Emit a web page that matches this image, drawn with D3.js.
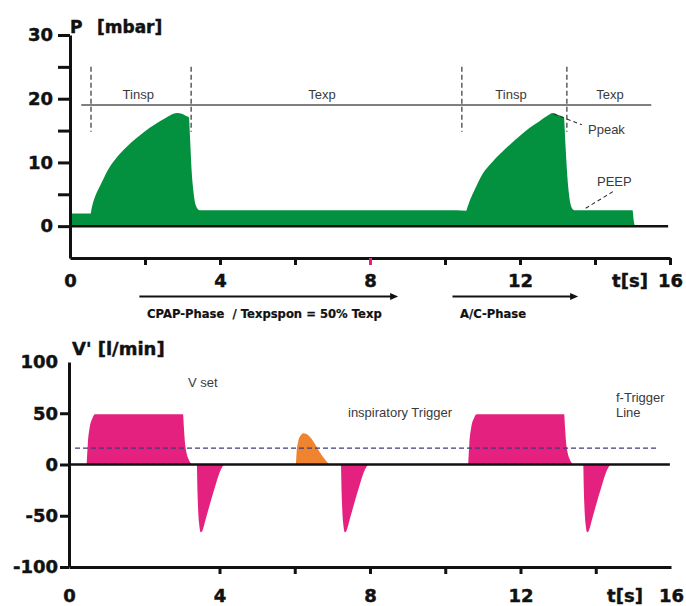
<!DOCTYPE html>
<html>
<head>
<meta charset="utf-8">
<script src="https://cdn.jsdelivr.net/npm/d3@7"></script>
<style>
  body { margin: 0; background: #ffffff; }
  svg { display: block; }
  .bold { font-family: "DejaVu Sans", Verdana, sans-serif; font-weight: bold; fill: #111; stroke: #111; stroke-width: 0.45px; }
  .note { font-family: "Liberation Sans", Arial, sans-serif; font-size: 13px; fill: #3a3a3a; }
</style>
</head>
<body>
<svg id="chart" width="686" height="606"></svg>
<script>
// ---------------- DATA ----------------
// Pressure curve P [mbar] over time t [s]
const pressureTime  = [0, 0.55, 0.58, 0.63, 0.7, 0.8, 1.0, 1.25, 1.5, 1.75, 2.0, 2.25, 2.5, 2.7, 2.85, 3.0, 3.1, 3.17, 3.2, 3.24, 3.29, 3.35, 3.45,
                       6.0, 10.3, 10.56, 10.6, 10.66, 10.75, 11.0, 11.25, 11.5, 11.75, 12.0, 12.25, 12.5, 12.75, 12.87, 13.0, 13.1, 13.17,
                       13.21, 13.26, 13.31, 13.37, 13.45, 15.0, 15.03, 15.06];
const pressureValue = [2, 2, 2.9, 4.0, 5.1, 6.3, 8.7, 10.8, 12.4, 13.7, 14.9, 15.9, 16.8, 17.5, 17.75, 17.6, 17.3, 17.1, 14, 9, 5.5, 3.3, 2.5,
                       2.5, 2.5, 2.4, 3.0, 4.0, 5.2, 8.2, 10.0, 11.5, 12.9, 14.2, 15.4, 16.4, 17.4, 17.75, 17.5, 17.3, 17.1,
                       13, 8, 4.8, 3.0, 2.5, 2.5, 1.0, 0];

// Flow curves V' [l/min]: [t, value]
const vSetBreath1 = [[0.47,0],[0.5,20],[0.55,36],[0.62,45],[0.69,49],[3.03,49],[3.05,38],[3.08,22],[3.12,12],[3.18,5],[3.27,0]];
const vSetBreath2 = [[10.61,0],[10.64,20],[10.69,36],[10.76,45],[10.84,49],[13.16,49],[13.18,38],[13.21,22],[13.25,12],[13.31,5],[13.4,0]];
const expFlow1 = [[3.4,0],[3.41,-20],[3.43,-42],[3.46,-58],[3.5,-66],[3.54,-65],[3.62,-55],[3.75,-38],[3.88,-22],[4.0,-8],[4.08,-2],[4.12,0]];
const expFlow2 = [[7.23,0],[7.24,-20],[7.26,-42],[7.29,-58],[7.33,-66],[7.37,-65],[7.45,-55],[7.58,-38],[7.71,-22],[7.83,-8],[7.91,-2],[7.95,0]];
const expFlow3 = [[13.67,0],[13.68,-20],[13.7,-42],[13.73,-58],[13.77,-66],[13.81,-65],[13.89,-55],[14.02,-38],[14.15,-22],[14.27,-8],[14.35,-2],[14.39,0]];
const spontTrigger = [[6.03,0],[6.05,12],[6.09,22],[6.15,28],[6.23,30.5],[6.3,30],[6.4,27],[6.52,21],[6.65,13],[6.78,6],[6.88,1.5],[6.93,0]];

// Axis ticks / labels
const timeTicksTop    = [0, 2, 4, 6, 8, 10, 12, 14, 16];
const timeTicksBottom = [0, 2, 4, 6, 8, 10, 12, 14, 16];
const timeLabels      = [0, 4, 8, 12, 16];
const pressureTicks   = [30, 25, 20, 15, 10, 5, 0];
const pressureLabels  = [30, 20, 10, 0];
const flowTicks       = [100, 50, 0, -50, -100];

// Annotations
const phaseBoundaries = [0.56, 3.23, 10.45, 13.25];   // dashed verticals (t)
const phaseDashRange  = [14.8, 25];                    // P range of dashed verticals
const phaseLineLevel  = 19;                            // horizontal line P
const phaseLineSpan   = [0.3, 15.5];
const phaseLabels     = [{t:1.82, text:"Tinsp"}, {t:6.72, text:"Texp"}, {t:11.76, text:"Tinsp"}, {t:14.4, text:"Texp"}];
const triggerLevel    = 16;
const triggerSpan     = [0.16, 15.67];
const phaseArrows     = [{from:1.85, to:8.75}, {from:10.2, to:13.55}];

// ---------------- DRAW ----------------
const svg = d3.select("#chart");
const GREEN = "#04913f", PINK = "#e4217e", ORANGE = "#ee8430";

// Top chart scales
const xP = d3.scaleLinear().domain([0, 16]).range([70, 670]);
const yP = d3.scaleLinear().domain([-5, 30]).range([258, 35]);

// Bottom chart scales
const xF = d3.scaleLinear().domain([0, 16]).range([69, 671]);
const yF = d3.scaleLinear().domain([-100, 100]).range([567, 362]);

// ---- pressure area
const pData = pressureTime.map((t, i) => [t, pressureValue[i]]);
svg.append("path")
  .datum(pData)
  .attr("fill", GREEN)
  .attr("d", d3.area().x(d => xP(d[0])).y0(yP(0)).y1(d => yP(d[1])).curve(d3.curveMonotoneX));

// zero line
svg.append("line").attr("x1", xP(0)).attr("x2", xP(15.95)).attr("y1", yP(0)).attr("y2", yP(0))
  .attr("stroke", "#111").attr("stroke-width", 2.5);

// phase horizontal line
svg.append("line").attr("x1", xP(phaseLineSpan[0])).attr("x2", xP(phaseLineSpan[1]))
  .attr("y1", yP(phaseLineLevel)).attr("y2", yP(phaseLineLevel))
  .attr("stroke", "#555").attr("stroke-width", 1.5);

// dashed verticals
svg.selectAll(".pb").data(phaseBoundaries).join("line")
  .attr("x1", d => xP(d)).attr("x2", d => xP(d))
  .attr("y1", yP(phaseDashRange[1])).attr("y2", yP(phaseDashRange[0]))
  .attr("stroke", "#333").attr("stroke-width", 1.2).attr("stroke-dasharray", "5,3");

svg.selectAll(".pl").data(phaseLabels).join("text")
  .attr("class", "note").attr("text-anchor", "middle")
  .attr("x", d => xP(d.t)).attr("y", 99).text(d => d.text);

// Ppeak / PEEP annotations
svg.append("line").attr("x1", xP(12.9)).attr("y1", yP(17.6)).attr("x2", xP(13.65)).attr("y2", yP(15.9))
  .attr("stroke", "#333").attr("stroke-width", 1.1).attr("stroke-dasharray", "4,3");
svg.append("text").attr("class", "note").attr("x", 588).attr("y", 134).text("Ppeak");
svg.append("line").attr("x1", xP(13.75)).attr("y1", yP(2.8)).attr("x2", xP(14.5)).attr("y2", yP(5.5))
  .attr("stroke", "#333").attr("stroke-width", 1.1).attr("stroke-dasharray", "4,3");
svg.append("text").attr("class", "note").attr("x", 597).attr("y", 186).text("PEEP");

// top axes
const gxP = svg.append("g").attr("transform", `translate(0,${yP(-5)})`)
  .call(d3.axisBottom(xP).tickValues(timeTicksTop).tickSize(7).tickSizeOuter(0).tickPadding(9)
    .tickFormat(d => timeLabels.includes(d) ? String(d) : ""));
const gyP = svg.append("g").attr("transform", `translate(${xP(0)},0)`)
  .call(d3.axisLeft(yP).tickValues(pressureTicks).tickSize(12).tickSizeOuter(0).tickPadding(5)
    .tickFormat(d => pressureLabels.includes(d) ? String(d) : ""));
gxP.selectAll(".tick").filter(d => d === 8).select("line").attr("stroke", PINK);
gxP.selectAll(".tick").filter(d => d === 0).select("line").remove();

svg.append("text").attr("class", "bold").attr("x", 70).attr("y", 33).style("font-size", "17px")
  .text("P").append("tspan").attr("x", 97).text("[mbar]");
svg.append("text").attr("class", "bold").attr("x", 630).attr("y", 287).attr("text-anchor", "middle")
  .style("font-size", "18px").text("t[s]");

// phase arrows
phaseArrows.forEach(a => {
  const x1 = xP(a.from), x2 = xP(a.to), y = 296.5;
  svg.append("line").attr("x1", x1).attr("x2", x2 - 5).attr("y1", y).attr("y2", y)
    .attr("stroke", "#111").attr("stroke-width", 2.2);
  svg.append("path").attr("d", `M${x2},${y}L${x2 - 8},${y - 3.5}L${x2 - 8},${y + 3.5}Z`).attr("fill", "#111");
});
svg.append("text").attr("class", "bold").attr("x", 147).attr("y", 318).style("font-size", "11.6px")
  .style("stroke-width", "0.2px").style("white-space", "pre").attr("xml:space", "preserve")
  .text("CPAP-Phase  / Texpspon = 50% Texp");
svg.append("text").attr("class", "bold").attr("x", 460).attr("y", 318).style("font-size", "11.6px")
  .style("stroke-width", "0.2px").text("A/C-Phase");

// ---- flow chart
const flowArea = d3.area().x(d => xF(d[0])).y0(yF(0)).y1(d => yF(d[1])).curve(d3.curveMonotoneX);
[vSetBreath1, vSetBreath2, expFlow1, expFlow2, expFlow3].forEach(seg => {
  svg.append("path").datum(seg).attr("fill", PINK).attr("d", flowArea);
});
svg.append("path").datum(spontTrigger).attr("fill", ORANGE).attr("d", flowArea);

// trigger line
svg.append("line").attr("x1", xF(triggerSpan[0])).attr("x2", xF(triggerSpan[1]))
  .attr("y1", yF(triggerLevel)).attr("y2", yF(triggerLevel))
  .attr("stroke", "#3b3b7a").attr("stroke-width", 1.4).attr("stroke-dasharray", "5,3");

// zero line
svg.append("line").attr("x1", xF(0)).attr("x2", xF(15.97)).attr("y1", yF(0)).attr("y2", yF(0))
  .attr("stroke", "#111").attr("stroke-width", 2.5);

const gxF = svg.append("g").attr("transform", `translate(0,${yF(-100)})`)
  .call(d3.axisBottom(xF).tickValues(timeTicksBottom).tickSize(7).tickSizeOuter(0).tickPadding(15)
    .tickFormat(d => timeLabels.includes(d) ? String(d) : ""));
gxF.selectAll(".tick").filter(d => d === 0 || d === 2 || d === 16).select("line").remove();
const gyF = svg.append("g").attr("transform", `translate(${xF(0)},0)`)
  .call(d3.axisLeft(yF).tickValues(flowTicks).tickSize(9).tickSizeOuter(0).tickPadding(2)
    .tickFormat(d => String(d)));
gyF.selectAll(".tick").filter(d => d === 100).select("line").remove();

svg.append("text").attr("class", "bold").attr("x", 72).attr("y", 355).style("font-size", "18px").text("V' [l/min]");
svg.append("text").attr("class", "bold").attr("x", 625).attr("y", 602).attr("text-anchor", "middle")
  .style("font-size", "18px").text("t[s]");

svg.append("text").attr("class", "note").attr("x", 188).attr("y", 387).text("V set");
svg.append("text").attr("class", "note").attr("x", 348).attr("y", 417).text("inspiratory Trigger");
svg.append("text").attr("class", "note").attr("x", 616).attr("y", 402).text("f-Trigger");
svg.append("text").attr("class", "note").attr("x", 616).attr("y", 417).text("Line");

// axis styling
svg.selectAll(".domain").attr("stroke", "#111").attr("stroke-width", 3);
svg.selectAll(".tick line").filter(function() { return d3.select(this).attr("stroke") !== PINK; })
  .attr("stroke", "#111");
svg.selectAll(".tick line").attr("stroke-width", 3);
svg.selectAll(".tick text").attr("class", "bold").attr("fill", "#111")
  .style("font-size", "18px")
  .style("font-family", "'DejaVu Sans', Verdana, sans-serif").style("font-weight", "bold")
  .style("stroke", "#111").style("stroke-width", "0.45px");
</script>
</body>
</html>
